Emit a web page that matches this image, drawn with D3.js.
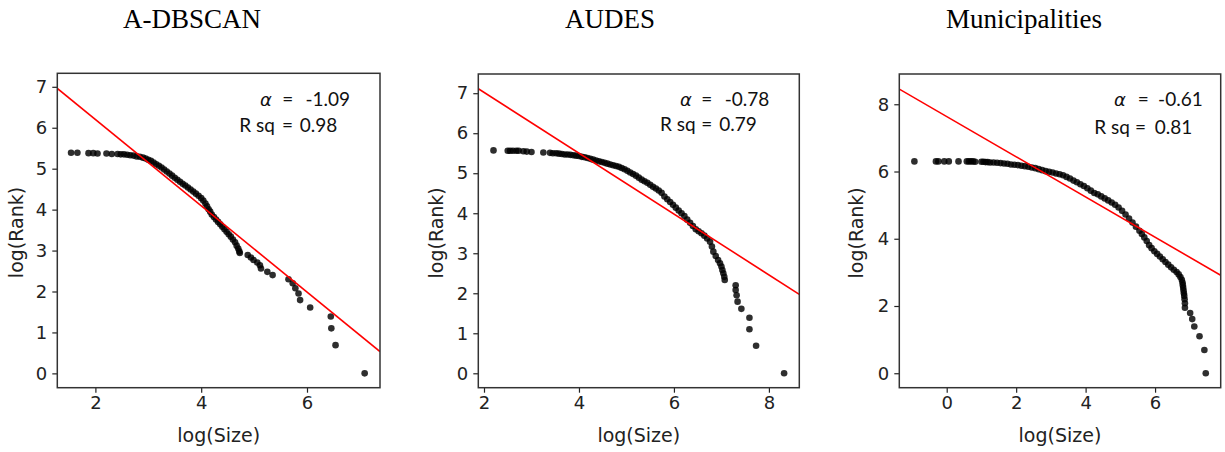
<!DOCTYPE html>
<html><head><meta charset="utf-8">
<script src="https://cdn.jsdelivr.net/npm/d3@7"></script>
<style>body{margin:0;background:#fff}</style>
</head><body><svg id="c" width="1225" height="452"></svg>
<script>
// ---- data ----
const titles = ["A-DBSCAN", "AUDES", "Municipalities"];
const alphaLabels = ["-1.09", "-0.78", "-0.61"];
const rsqLabels = ["0.98", "0.79", "0.81"];
const fitSlopes = [-1.054, -0.76, -0.598];
const fitIntercepts = [8.31, 8.54, 7.634];
const xTicks = [[2, 4, 6], [2, 4, 6, 8], [0, 2, 4, 6]];
const yTicks = [[0, 1, 2, 3, 4, 5, 6, 7], [0, 1, 2, 3, 4, 5, 6, 7], [0, 2, 4, 6, 8]];
const xDomains = [[1.28, 7.38], [1.88, 8.64], [-1.365, 7.89]];
const yDomains = [[-0.35, 7.33], [-0.36, 7.48], [-0.43, 8.9]];

const pointsADBSCAN = [
[1.54,5.39],[1.66,5.39],[1.87,5.38],[1.96,5.38],[2.04,5.37],[2.21,5.37],[2.31,5.36],[2.42,5.36],
[2.48,5.35],[2.54,5.35],[2.60,5.34],[2.66,5.33],[2.72,5.32],[2.78,5.30],[2.84,5.29],[2.90,5.27],
[2.95,5.25],[3.00,5.22],[3.05,5.19],[3.10,5.15],[3.15,5.11],[3.20,5.07],[3.25,5.03],[3.30,4.98],
[3.35,4.93],[3.40,4.88],[3.45,4.83],[3.50,4.78],[3.55,4.73],[3.60,4.68],[3.65,4.63],[3.70,4.59],
[3.75,4.54],[3.80,4.49],[3.85,4.44],[3.90,4.39],[3.95,4.34],[4.00,4.28],[4.04,4.22],[4.08,4.15],
[4.11,4.08],[4.14,4.01],[4.17,3.95],[4.20,3.88],[4.24,3.82],[4.28,3.76],[4.32,3.70],[4.36,3.64],
[4.40,3.58],[4.44,3.52],[4.48,3.46],[4.52,3.40],[4.56,3.34],[4.60,3.27],[4.64,3.20],[4.67,3.12],
[4.70,3.05],[4.72,2.98],[4.73,2.94],
[4.88,2.89],[4.94,2.83],[4.99,2.77],[5.06,2.71],[5.11,2.64],[5.13,2.56],[5.25,2.48],[5.35,2.40],
[5.65,2.30],[5.73,2.20],[5.78,2.08],[5.84,1.95],[5.87,1.79],[6.06,1.61],[6.45,1.39],[6.46,1.10],
[6.54,0.69],[7.09,0]
];
const pointsAUDES = [
[2.20,5.57],[2.50,5.56],[2.55,5.56],[2.61,5.56],[2.68,5.56],[2.73,5.56],[2.83,5.55],[2.90,5.54],
[3.00,5.53],[3.25,5.52],[3.39,5.51],[3.45,5.50],[3.52,5.50],[3.58,5.49],[3.64,5.48],[3.70,5.47],
[3.76,5.47],[3.82,5.46],[3.88,5.45],[3.94,5.44],[4.00,5.43],[4.06,5.41],[4.12,5.40],[4.18,5.38],
[4.24,5.36],[4.30,5.34],[4.36,5.32],[4.42,5.30],[4.48,5.28],[4.54,5.26],[4.60,5.24],[4.66,5.22],
[4.72,5.20],[4.78,5.18],[4.84,5.16],[4.90,5.13],[4.96,5.10],[5.02,5.06],[5.08,5.02],[5.14,4.98],
[5.20,4.94],[5.26,4.89],[5.32,4.84],[5.38,4.80],[5.44,4.76],[5.50,4.71],[5.56,4.66],[5.62,4.62],
[5.68,4.57],[5.74,4.51],[5.80,4.42],[5.86,4.35],[5.92,4.28],[5.98,4.21],[6.04,4.14],[6.10,4.07],
[6.16,4.00],[6.22,3.93],[6.28,3.84],[6.34,3.76],[6.40,3.68],[6.46,3.60],[6.52,3.55],[6.58,3.50],
[6.64,3.44],[6.70,3.37],[6.76,3.29],[6.80,3.17],[6.83,3.04],[6.88,2.93],[6.93,2.83],[6.97,2.75],
[7.00,2.67],[7.02,2.58],[7.04,2.50],[7.06,2.41],[7.07,2.33],
[7.30,2.20],[7.30,2.08],[7.32,1.95],[7.34,1.79],[7.42,1.61],[7.59,1.39],[7.59,1.10],[7.73,0.69],
[8.32,0]
];
const pointsMunicipalities = [
[-0.93,6.30],[-0.31,6.30],[-0.24,6.30],[-0.07,6.30],[0.06,6.30],[0.34,6.30],[0.58,6.30],[0.64,6.30],
[0.70,6.30],[0.76,6.30],[0.82,6.29],[1.00,6.29],[1.06,6.29],[1.12,6.28],[1.18,6.28],[1.25,6.27],
[1.35,6.27],[1.45,6.26],[1.55,6.25],[1.65,6.24],[1.75,6.23],[1.85,6.21],[1.95,6.20],[2.05,6.19],
[2.15,6.17],[2.25,6.16],[2.35,6.14],[2.45,6.12],[2.55,6.10],[2.65,6.07],[2.75,6.04],[2.85,6.01],
[2.95,5.99],[3.05,5.97],[3.15,5.94],[3.25,5.92],[3.35,5.89],[3.45,5.84],[3.55,5.79],[3.65,5.73],
[3.75,5.68],[3.85,5.62],[3.95,5.57],[4.05,5.50],[4.15,5.43],[4.25,5.36],[4.35,5.32],[4.45,5.26],
[4.55,5.20],[4.65,5.14],[4.75,5.08],[4.85,5.01],[4.95,4.93],[5.05,4.83],[5.15,4.72],[5.25,4.60],
[5.35,4.48],[5.45,4.36],[5.55,4.24],[5.62,4.14],[5.69,4.04],[5.76,3.93],[5.83,3.81],[5.90,3.72],
[5.98,3.63],[6.06,3.55],[6.14,3.47],[6.22,3.39],[6.30,3.31],[6.38,3.23],[6.46,3.15],[6.54,3.08],
[6.62,3.01],[6.68,2.94],[6.73,2.86],[6.77,2.78],[6.79,2.70],[6.80,2.62],[6.81,2.54],[6.82,2.46],
[6.83,2.38],[6.84,2.30],[6.85,2.20],[6.86,2.08],[6.86,1.95],
[7.01,1.79],[7.07,1.61],[7.13,1.39],[7.28,1.10],[7.42,0.69],[7.46,0]
];
const allPoints = [pointsADBSCAN, pointsAUDES, pointsMunicipalities];

// ---- layout ----
const frames = [
  {l: 57.3, r: 380, t: 73.3, b: 387.7, titleX: 192, ylabX: 23},
  {l: 478.3, r: 799.3, t: 74, b: 387.7, titleX: 610, ylabX: 443},
  {l: 899.3, r: 1220.7, t: 74, b: 387.7, titleX: 1024, ylabX: 863}
];
const annot = [
  {ax: 260, aeq: 287.7, av: 350, ay: 105.7, rx: 239.3, req: 287.5, rv: 337.3, ry: 131.7},
  {ax: 680, aeq: 706.7, av: 769.3, ay: 105.7, rx: 660, req: 706.7, rv: 756.7, ry: 130.7},
  {ax: 1114, aeq: 1143.3, av: 1202.7, ay: 105.7, rx: 1094.3, req: 1140.5, rv: 1192.3, ry: 134}
];

const svg = d3.select("#c");
const tickFont = "DejaVu Sans";

frames.forEach((f, i) => {
  const x = d3.scaleLinear().domain(xDomains[i]).range([f.l, f.r]);
  const y = d3.scaleLinear().domain(yDomains[i]).range([f.b, f.t]);
  const g = svg.append("g");

  g.append("clipPath").attr("id", "clip" + i)
    .append("rect").attr("x", f.l).attr("y", f.t).attr("width", f.r - f.l).attr("height", f.b - f.t);

  // points
  g.append("g").selectAll("circle").data(allPoints[i]).join("circle")
    .attr("cx", d => x(d[0])).attr("cy", d => y(d[1])).attr("r", 3.3)
    .attr("fill", "#000").attr("fill-opacity", 0.82);

  // fit line
  const xd = xDomains[i];
  g.append("line").attr("clip-path", `url(#clip${i})`)
    .attr("x1", x(xd[0])).attr("y1", y(fitIntercepts[i] + fitSlopes[i] * xd[0]))
    .attr("x2", x(xd[1])).attr("y2", y(fitIntercepts[i] + fitSlopes[i] * xd[1]))
    .attr("stroke", "#ff0000").attr("stroke-width", 1.6);

  // axes
  const ax = g.append("g").attr("transform", `translate(0,${f.b})`)
    .call(d3.axisBottom(x).tickValues(xTicks[i]).tickFormat(d3.format("d")).tickSize(5).tickPadding(4));
  const ay = g.append("g").attr("transform", `translate(${f.l},0)`)
    .call(d3.axisLeft(y).tickValues(yTicks[i]).tickFormat(d3.format("d")).tickSize(5).tickPadding(5));
  [ax, ay].forEach(a => {
    a.select(".domain").remove();
    a.selectAll("line").attr("stroke", "#222").attr("stroke-width", 1.2);
    a.selectAll("text").attr("font-family", tickFont).attr("font-size", 18).attr("fill", "#222");
  });

  // frame
  g.append("rect").attr("x", f.l).attr("y", f.t).attr("width", f.r - f.l).attr("height", f.b - f.t)
    .attr("fill", "none").attr("stroke", "#333").attr("stroke-width", 1.5);

  // axis labels
  g.append("text").attr("x", (f.l + f.r) / 2).attr("y", 442).attr("text-anchor", "middle")
    .attr("font-family", tickFont).attr("font-size", 19).attr("fill", "#222").text("log(Size)");
  g.append("text").attr("transform", `translate(${f.ylabX},${(f.t + f.b) / 2 + 2}) rotate(-90)`)
    .attr("text-anchor", "middle").attr("font-family", tickFont).attr("font-size", 19)
    .attr("fill", "#222").text("log(Rank)");

  // title
  g.append("text").attr("x", f.titleX).attr("y", 28).attr("text-anchor", "middle")
    .attr("font-family", "Liberation Serif").attr("font-size", 27).attr("fill", "#000").text(titles[i]);

  // annotations
  const a = annot[i];
  const ann = g.append("g").attr("font-family", "Lato").attr("font-size", 19).attr("fill", "#111");
  ann.append("text").attr("x", a.ax).attr("y", a.ay).attr("font-family", "DejaVu Sans")
    .attr("font-style", "italic").attr("font-size", 18).text("α");
  ann.append("text").attr("x", a.aeq).attr("y", a.ay).attr("text-anchor", "middle").text("=");
  ann.append("text").attr("x", a.av).attr("y", a.ay).attr("text-anchor", "end").text(alphaLabels[i]);
  ann.append("text").attr("x", a.rx).attr("y", a.ry).text("R sq");
  ann.append("text").attr("x", a.req).attr("y", a.ry).attr("text-anchor", "middle").text("=");
  ann.append("text").attr("x", a.rv).attr("y", a.ry).attr("text-anchor", "end").text(rsqLabels[i]);
});
</script>
</body></html>
